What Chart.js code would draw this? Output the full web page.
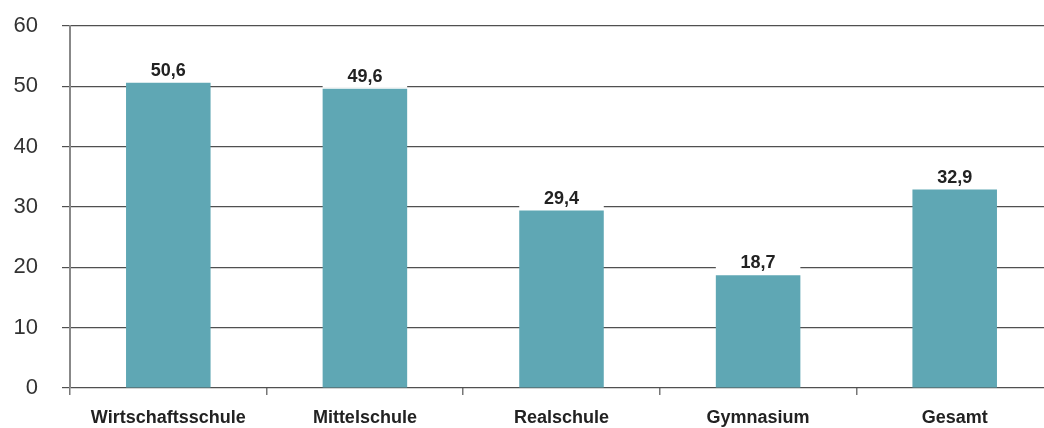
<!DOCTYPE html>
<html>
<head>
<meta charset="utf-8">
<script src="https://cdn.jsdelivr.net/npm/chart.js@4"></script>
<style>
  html, body { margin: 0; padding: 0; background: #fff; overflow: hidden; }
  #wrap { width: 1054px; height: 428px; }
</style>
</head>
<body>
<div id="wrap"><canvas id="myChart"></canvas></div>
<script>
var categories = ['Wirtschaftsschule', 'Mittelschule', 'Realschule', 'Gymnasium', 'Gesamt']
var values = [50.6, 49.6, 29.4, 18.7, 32.9]
var yTicks = [0, 10, 20, 30, 40, 50, 60]

// value labels with a white box behind them, as wide as the bar
var valueLabels = {
    id: 'valueLabels',
    afterDatasetsDraw(chart) {
        const ctx = chart.ctx
        const meta = chart.getDatasetMeta(0)
        ctx.save()
        ctx.font = 'bold 18px "Liberation Sans", Arial, sans-serif'
        ctx.textAlign = 'center'
        ctx.textBaseline = 'alphabetic'
        meta.data.forEach((bar, i) => {
            ctx.fillStyle = '#ffffff'
            ctx.fillRect(bar.x - bar.width / 2, bar.y - 26, bar.width, 25)
            ctx.fillStyle = '#222222'
            ctx.fillText(values[i].toFixed(1).replace('.', ','), bar.x, bar.y - 7)
        })
        ctx.restore()
    }
}

var ctx = document.getElementById('myChart').getContext('2d')
var myChart = new Chart(ctx, {
    type: 'bar',
    data: {
        labels: categories,
        datasets: [{
            data: values,
            backgroundColor: '#5fa7b4',
            borderWidth: 0,
            barPercentage: 0.43,
            categoryPercentage: 1
        }]
    },
    options: {
        responsive: true,
        maintainAspectRatio: false,
        animation: false,
        layout: { padding: { top: 26, right: 1, bottom: 0, left: 0 } },
        plugins: {
            legend: { display: false },
            tooltip: { enabled: false }
        },
        scales: {
            x: {
                afterFit: s => { s.height = 40 },
                grid: {
                    offset: true,
                    drawOnChartArea: false,
                    drawTicks: true,
                    tickLength: 7,
                    color: '#777777',
                    lineWidth: 1.5
                },
                border: { display: false },
                ticks: {
                    padding: 12,
                    color: '#222222',
                    font: { family: '"Liberation Sans", Arial, sans-serif', size: 18, weight: 'bold' },
                    maxRotation: 0
                }
            },
            y: {
                min: 0,
                max: 60,
                afterFit: s => { s.width = 70; s.paddingTop = 0; s.paddingBottom = 0 },
                afterBuildTicks: s => { s.ticks = yTicks.map(v => ({ value: v })) },
                grid: {
                    color: '#505050',
                    lineWidth: 1.2,
                    tickLength: 8
                },
                border: { color: '#888888', width: 2 },
                ticks: {
                    padding: 24,
                    color: '#333333',
                    font: { family: '"Liberation Sans", Arial, sans-serif', size: 22 }
                }
            }
        }
    },
    plugins: [valueLabels]
})
</script>
</body>
</html>
